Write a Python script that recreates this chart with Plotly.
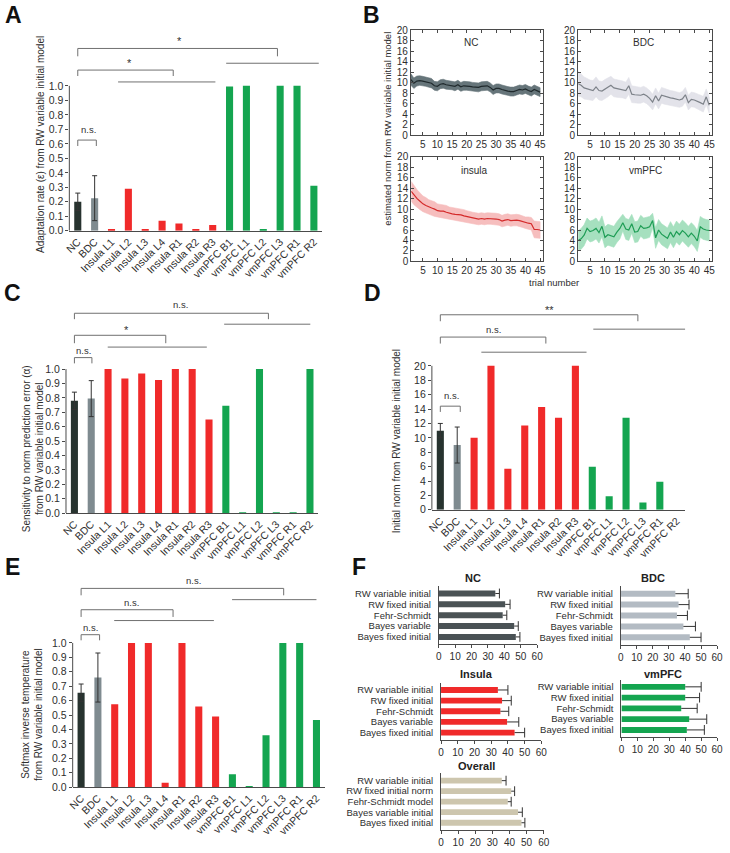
import plotly.graph_objects as go

W, H = 730, 853
FONT = "Arial, 'Liberation Sans', Helvetica, sans-serif"
TXT = "#2e2e2e"
AXC = "#4a4a4a"
BRC = "#707070"

# ---------------- data ----------------
categories = ["NC", "BDC", "Insula L1", "Insula L2", "Insula L3", "Insula L4",
              "Insula R1", "Insula R2", "Insula R3", "vmPFC B1", "vmPFC L1",
              "vmPFC L2", "vmPFC L3", "vmPFC R1", "vmPFC R2"]
groups = ["NC", "BDC", "Insula", "Insula", "Insula", "Insula", "Insula", "Insula",
          "Insula", "vmPFC", "vmPFC", "vmPFC", "vmPFC", "vmPFC", "vmPFC"]

# A: adaptation rate
adaptation_rate = [0.20, 0.225, 0.01, 0.29, 0.01, 0.07, 0.05, 0.01, 0.04,
                   0.995, 1.0, 0.01, 1.0, 1.0, 0.31]
adaptation_rate_sem = [0.06, 0.155]          # NC, BDC
# C: sensitivity to norm prediction error
sensitivity = [0.78, 0.795, 1.0, 0.935, 0.97, 0.925, 1.0, 1.0, 0.65,
               0.745, 0.005, 1.0, 0.005, 0.005, 1.0]
sensitivity_sem = [0.06, 0.125]
# D: initial norm
initial_norm = [11.0, 9.0, 10.0, 20.0, 5.7, 11.7, 14.3, 12.8, 20.0,
                6.0, 1.9, 12.8, 1.0, 3.9, 0.0]
initial_norm_sem = [1.0, 2.5]
# E: softmax inverse temperature
softmax_temp = [0.655, 0.76, 0.575, 1.0, 1.0, 0.03, 1.0, 0.56, 0.49,
                0.09, 0.008, 0.36, 1.0, 1.0, 0.465]
softmax_temp_sem = [0.06, 0.17]

unit_ticks = [0.0, 0.1, 0.2, 0.3, 0.4, 0.5, 0.6, 0.7, 0.8, 0.9, 1.0]
norm_ticks = [0, 2, 4, 6, 8, 10, 12, 14, 16, 18, 20]

# B: estimated norm per trial
trials = list(range(1, 46))
trial_ticks = [5, 10, 15, 20, 25, 30, 35, 40, 45]
nc_norm = [10.6, 9.9, 10.3, 10.4, 10.3, 10.2, 10.1, 9.9, 9.4, 9.3, 9.7, 9.8, 9.6, 9.5, 9.5,
           9.3, 9.6, 9.2, 9.4, 9.4, 9.3, 9.2, 9.2, 9.1, 9.3, 9.4, 9.4, 9.1, 8.6, 8.9,
           8.9, 8.7, 8.5, 8.4, 8.3, 8.3, 8.5, 8.7, 8.6, 8.8, 8.5, 8.3, 8.7, 8.4, 8.2]
nc_norm_sem = [1.1, 1.0, 0.95, 0.9, 0.9, 0.9, 0.9, 0.9, 0.85, 0.85, 0.85, 0.85, 0.85, 0.85, 0.85,
               0.85, 0.85, 0.85, 0.85, 0.85, 0.85, 0.85, 0.85, 0.85, 0.85, 0.85, 0.85, 0.85, 0.85, 0.85,
               0.85, 0.85, 0.85, 0.85, 0.85, 0.85, 0.85, 0.85, 0.85, 0.85, 0.85, 0.85, 0.85, 0.85, 0.85]
bdc_norm = [9.8, 9.5, 9.0, 8.8, 8.6, 8.5, 9.2, 8.5, 8.4, 8.8, 9.1, 9.5, 9.0, 8.9, 8.8,
            8.7, 8.5, 9.4, 7.8, 7.7, 7.6, 7.6, 7.8, 7.5, 7.0, 6.3, 7.5, 6.5, 7.6, 7.4,
            7.2, 7.1, 7.0, 6.8, 6.7, 6.9, 7.7, 6.2, 6.8, 6.7, 6.5, 6.2, 5.9, 7.3, 5.7]
bdc_norm_sem = [2.4, 2.2, 2.1, 2.0, 1.9, 1.9, 1.9, 1.8, 1.8, 1.8, 1.8, 1.7, 1.7, 1.7, 1.7,
                1.6, 1.6, 1.6, 1.6, 1.6, 1.5, 1.5, 1.5, 1.5, 1.5, 1.5, 1.5, 1.5, 1.5, 1.5,
                1.4, 1.4, 1.4, 1.4, 1.4, 1.4, 1.4, 1.4, 1.4, 1.4, 1.4, 1.5, 1.5, 1.5, 1.5]
insula_norm = [13.4, 12.6, 12.0, 11.5, 11.0, 10.7, 10.4, 10.2, 10.0, 9.7, 9.6, 9.6, 9.4, 9.2, 9.1,
               9.0, 9.0, 8.9, 8.7, 8.6, 8.4, 8.3, 8.2, 8.1, 8.2, 8.1, 8.2, 8.2, 8.2, 8.1,
               8.0, 7.7, 7.9, 8.0, 7.8, 7.9, 7.9, 7.8, 7.6, 7.4, 7.3, 7.2, 6.1, 6.1, 6.0]
insula_norm_sem = [1.9, 1.8, 1.7, 1.6, 1.5, 1.5, 1.4, 1.4, 1.4, 1.3, 1.3, 1.3, 1.3, 1.2, 1.2,
                   1.2, 1.2, 1.2, 1.2, 1.1, 1.1, 1.1, 1.1, 1.1, 1.1, 1.1, 1.1, 1.1, 1.1, 1.1,
                   1.1, 1.1, 1.1, 1.1, 1.1, 1.1, 1.1, 1.1, 1.1, 1.1, 1.2, 1.2, 1.6, 1.6, 1.6]
vmpfc_norm = [4.0, 4.3, 5.0, 6.3, 5.7, 5.9, 6.3, 5.5, 6.7, 4.6, 5.1, 4.9, 4.7, 5.6, 6.3,
              7.4, 6.2, 6.0, 7.2, 5.6, 5.7, 6.8, 6.3, 6.4, 6.6, 7.8, 4.5, 6.0, 5.2, 4.8,
              4.4, 5.6, 4.6, 5.7, 5.1, 5.9, 5.4, 4.7, 5.4, 4.8, 3.9, 6.6, 6.2, 6.0, 5.9]
vmpfc_norm_sem = [1.8, 2.0, 2.0, 2.0, 2.0, 2.0, 2.0, 2.0, 2.0, 2.0, 2.0, 2.0, 2.0, 2.0, 2.0,
                  1.6, 2.0, 2.0, 1.8, 2.0, 2.0, 2.0, 2.0, 2.0, 2.0, 1.4, 2.0, 2.0, 2.0, 2.0,
                  2.0, 2.0, 2.0, 2.0, 2.0, 2.0, 2.0, 2.0, 2.0, 2.0, 2.0, 2.0, 2.0, 2.0, 2.0]

# F: model fits
models = ["RW variable initial", "RW fixed initial", "Fehr-Schmidt", "Bayes variable",
          "Bayes fixed initial"]
overall_models = ["RW variable initial", "RW fixed initial norm", "Fehr-Schmidt model",
                  "Bayes variable initial", "Bayes fixed initial"]
fit_ticks = [0, 10, 20, 30, 40, 50, 60]
fit_nc = [34.5, 40.5, 39.0, 46.0, 47.0]
fit_nc_err = [2.5, 3.0, 2.5, 2.5, 2.5]
fit_bdc = [34.0, 36.0, 35.0, 39.0, 43.0]
fit_bdc_err = [8.0, 6.5, 6.5, 7.5, 7.0]
fit_insula = [34.0, 36.5, 35.5, 39.5, 44.0]
fit_insula_err = [6.0, 5.5, 5.0, 7.0, 6.0]
fit_vmpfc = [40.0, 40.0, 37.5, 42.5, 41.0]
fit_vmpfc_err = [10.0, 9.0, 10.0, 11.0, 11.0]
fit_overall = [35.5, 41.0, 39.0, 45.0, 47.0]
fit_overall_err = [2.5, 2.0, 2.0, 2.5, 2.0]

# ---------------- styling ----------------
group_colors = {"NC": "#27332f", "BDC": "#7f8b90", "Insula": "#f02a2a", "vmPFC": "#14a550"}
ERRC = "#333333"


def PX(p):
    return p / W


def PY(p):
    return 1 - p / H


fig = go.Figure()
layout = {}
shapes = []
annotations = []


def axnames(n):
    return ("x" if n == 1 else f"x{n}"), ("y" if n == 1 else f"y{n}")


def axkeys(n):
    return ("xaxis" if n == 1 else f"xaxis{n}"), ("yaxis" if n == 1 else f"yaxis{n}")


def bar_panel(n, vals, sem, left, right, zero, ppu, top, ticks, fmt, brackets, hlines):
    xa, ya = axnames(n)
    xk, yk = axkeys(n)
    for gi, g in enumerate(["NC", "BDC", "Insula", "vmPFC"]):
        idx = [i for i, gg in enumerate(groups) if gg == g]
        err = None
        if g in ("NC", "BDC"):
            err = dict(type="data", array=[sem[gi]], color=ERRC, thickness=1, width=2.5)
        fig.add_trace(go.Bar(x=[categories[i] for i in idx], y=[vals[i] for i in idx],
                             marker=dict(color=group_colors[g], line=dict(width=0)),
                             width=0.42, error_y=err, xaxis=xa, yaxis=ya,
                             showlegend=False, hoverinfo="x+y"))
    layout[xk] = dict(domain=[PX(left), PX(right)], anchor=ya, type="category",
                      categoryorder="array", categoryarray=categories,
                      range=[-0.5, 14.5], showline=True, linecolor=AXC, linewidth=1,
                      tickangle=-45, tickfont=dict(size=10.5, color=TXT), ticks="",
                      showgrid=False, zeroline=False)
    layout[yk] = dict(domain=[PY(zero), PY(zero - ppu * top)], anchor=xa,
                      range=[0, top], tickvals=ticks, tickformat=fmt, ticks="outside",
                      ticklen=3, tickcolor=AXC, showline=False, showgrid=False,
                      zeroline=False, tickfont=dict(size=10.5, color=TXT))
    shapes.append(dict(type="line", xref=f"{xa} domain", yref=ya, x0=0, x1=0,
                       y0=0, y1=ticks[-1], line=dict(color=AXC, width=1)))
    for (x0, x1, yt, ye, lab, lx, ly) in brackets:
        for (a, b, c, d) in [(x0, ye, x0, yt), (x0, yt, x1, yt), (x1, yt, x1, ye)]:
            shapes.append(dict(type="line", xref=xa, yref=ya, x0=a, y0=b, x1=c, y1=d,
                               line=dict(color=BRC, width=1)))
        annotations.append(dict(x=lx, y=ly, xref=xa, yref=ya, text=lab, showarrow=False,
                                font=dict(size=11 if "*" in lab else 9.5, color="#333333"),
                                xanchor="center", yanchor="middle"))
    for (x0, x1, y) in hlines:
        shapes.append(dict(type="line", xref=xa, yref=ya, x0=x0, y0=y, x1=x1, y1=y,
                           line=dict(color=BRC, width=1)))


# Panel A
bar_panel(1, adaptation_rate, adaptation_rate_sem, 64.4, 321.6, 228, 147, 1.40, unit_ticks, ".1f",
          [(0, 1.1, 0.626, 0.585, "n.s.", 0.62, 0.70),
           (0, 5.66, 1.109, 1.068, "*", 3.09, 1.16),
           (0, 11.84, 1.258, 1.204, "*", 6.06, 1.31)],
          [(2.39, 8.16, 1.027), (8.8, 14.29, 1.156)])
# Panel C
bar_panel(2, sensitivity, sensitivity_sem, 61, 317.6, 514.3, 146, 1.45, unit_ticks, ".1f",
          [(0, 1.04, 1.08, 1.04, "n.s.", 0.57, 1.13),
           (0, 5.43, 1.235, 1.18, "*", 3.09, 1.27),
           (0, 11.53, 1.388, 1.347, "n.s.", 6.33, 1.45)],
          [(1.98, 7.87, 1.153), (8.9, 14.02, 1.312)])
# Panel D
bar_panel(3, initial_norm, initial_norm_sem, 433, 690.5, 511, 7.3, 28.5, norm_ticks, "d",
          [(0, 1.18, 14.4, 13.6, "n.s.", 0.67, 15.9),
           (0, 6.25, 24.0, 23.1, "n.s.", 3.17, 25.0),
           (0, 11.7, 27.1, 26.2, "**", 6.45, 27.8)],
          [(2.43, 8.66, 21.9), (9.06, 14.52, 25.1)])
# Panel E
bar_panel(4, softmax_temp, softmax_temp_sem, 67.8, 324.2, 792.3, 146.3, 1.45, unit_ticks, ".1f",
          [(0, 1.1, 1.057, 1.018, "n.s.", 0.55, 1.11),
           (0, 5.47, 1.23, 1.18, "n.s.", 3.0, 1.28),
           (0, 12.05, 1.378, 1.33, "n.s.", 6.7, 1.43)],
          [(1.97, 7.9, 1.155), (8.98, 14.0, 1.30)])


# Panel B
def line_panel(n, mean, sem, lc, fc, left, right, top_px, bot_px, title, tx, ty):
    xa, ya = axnames(n)
    xk, yk = axkeys(n)
    upper = [m + s for m, s in zip(mean, sem)]
    lower = [m - s for m, s in zip(mean, sem)]
    fig.add_trace(go.Scatter(x=trials + trials[::-1], y=upper + lower[::-1], fill="toself",
                             fillcolor=fc, line=dict(width=0.6, color=fc), mode="lines",
                             xaxis=xa, yaxis=ya, showlegend=False, hoverinfo="skip"))
    fig.add_trace(go.Scatter(x=trials, y=mean, mode="lines", line=dict(color=lc, width=1.2),
                             xaxis=xa, yaxis=ya, showlegend=False))
    common = dict(showline=True, linecolor=AXC, linewidth=1, mirror="ticks", ticks="inside",
                  ticklen=3, tickcolor=AXC, showgrid=False, zeroline=False,
                  tickfont=dict(size=10, color=TXT))
    layout[xk] = dict(domain=[PX(left), PX(right)], anchor=ya, range=[1, 46],
                      tickvals=trial_ticks, **common)
    layout[yk] = dict(domain=[PY(bot_px), PY(top_px)], anchor=xa, range=[0, 20],
                      tickvals=norm_ticks, **common)
    annotations.append(dict(x=tx, y=ty, xref=xa, yref=ya, text=title, showarrow=False,
                            xanchor="center", yanchor="middle",
                            font=dict(size=10, color=TXT)))


line_panel(5, nc_norm, nc_norm_sem, "#1f292c", "#66757a", 411.7, 546, 24.5, 131, "NC", 21.5, 17.7)
line_panel(6, bdc_norm, bdc_norm_sem, "#7d8289", "#e3e3ea", 581.7, 718, 24.5, 131, "BDC", 23, 17.7)
line_panel(7, insula_norm, insula_norm_sem, "#d42a2a", "#f6bebe", 412, 546, 153, 259, "insula", 22.7, 17.3)
line_panel(8, vmpfc_norm, vmpfc_norm_sem, "#1e9d55", "#a6e0bf", 581.7, 718, 153, 259, "vmPFC", 23.6, 17.3)


# Panel F
def fit_panel(n, labels, vals, errs, color, left, right, top_px, bot_px, title, tx, ty):
    xa, ya = axnames(n)
    xk, yk = axkeys(n)
    fig.add_trace(go.Bar(y=labels, x=vals, orientation="h", width=0.55,
                         marker=dict(color=color, line=dict(width=0)),
                         error_x=dict(type="data", symmetric=False, array=errs,
                                      arrayminus=[0, 0, 0, 0, 0], color=ERRC,
                                      thickness=1, width=0),
                         xaxis=xa, yaxis=ya, showlegend=False))
    fig.add_trace(go.Scatter(y=labels, x=[v + e for v, e in zip(vals, errs)], mode="markers",
                             marker=dict(symbol="line-ns-open", size=7, color=ERRC,
                                         line=dict(color=ERRC, width=1)),
                             xaxis=xa, yaxis=ya, showlegend=False, hoverinfo="skip"))
    layout[xk] = dict(domain=[PX(left), PX(right)], anchor=ya, range=[0, 60],
                      tickvals=fit_ticks, showline=True, linecolor=AXC, linewidth=1,
                      ticks="outside", ticklen=3, tickcolor=AXC, showgrid=False,
                      zeroline=False, tickfont=dict(size=10, color=TXT))
    layout[yk] = dict(domain=[PY(bot_px), PY(top_px)], anchor=xa, type="category",
                      categoryorder="array", categoryarray=labels,
                      tickmode="array", tickvals=labels, ticktext=labels,
                      autorange="reversed", showline=True, linecolor=AXC, linewidth=1,
                      ticks="", ticklabelstandoff=5, showgrid=False, zeroline=False,
                      tickfont=dict(size=9.5, color=TXT))
    annotations.append(dict(x=PX(tx), y=PY(ty), xref="paper", yref="paper",
                            text=f"<b>{title}</b>", showarrow=False,
                            xanchor="center", yanchor="middle",
                            font=dict(size=11, color="#222222")))


fit_panel(9, models, fit_nc, fit_nc_err, "#4a5255", 440, 540, 588.5, 647.3, "NC", 475, 580)
fit_panel(10, models, fit_bdc, fit_bdc_err, "#b3bbc3", 625, 723, 588.7, 647.7, "BDC", 658, 580)
fit_panel(11, models, fit_insula, fit_insula_err, "#f02a2a", 442.3, 544.3, 686.4, 744.3, "Insula", 478, 678)
fit_panel(12, models, fit_vmpfc, fit_vmpfc_err, "#14a550", 625.7, 723, 683.2, 741.6, "vmPFC", 668, 678)
fit_panel(13, overall_models, fit_overall, fit_overall_err, "#cdc6ae", 442.3, 546.7, 778.4, 835.7, "Overall", 478, 771)


# axis titles
def vtext(x, y, text, size=10):
    annotations.append(dict(x=PX(x), y=PY(y), xref="paper", yref="paper", text=text,
                            textangle=-90, showarrow=False, xanchor="center", yanchor="middle",
                            font=dict(size=size, color=TXT)))


vtext(35, 140.5, "Adaptation rate (ε) from RW variable initial model")
vtext(27, 449, "Sensitivity to norm prediction error (α)<br>from RW variable initial model")
vtext(397, 441, "Initial norm from RW variable initial model")
vtext(26.5, 719, "Softmax inverse temperature<br>from RW variable initial model")
vtext(388, 125, "estimated norm from RW variable initial model", 9.5)
annotations.append(dict(x=PX(557), y=PY(280), xref="paper", yref="paper", text="trial number",
                        showarrow=False, xanchor="center", yanchor="middle",
                        font=dict(size=9.5, color=TXT)))

# panel letters
for lab, x, y in [("A", 8, 9), ("B", 372, 9), ("C", 7, 291), ("D", 373, 291),
                  ("E", 7, 569), ("F", 359, 569)]:
    annotations.append(dict(x=PX(x), y=PY(y), xref="paper", yref="paper", text=f"<b>{lab}</b>",
                            showarrow=False, xanchor="center", yanchor="middle",
                            font=dict(size=23, color="#111111")))

fig.update_layout(width=W, height=H, margin=dict(l=0, r=0, t=0, b=0),
                  paper_bgcolor="white", plot_bgcolor="white", barmode="overlay",
                  font=dict(family=FONT, color=TXT), showlegend=False,
                  shapes=shapes, annotations=annotations, **layout)

fig.write_html("out.html", config={"displayModeBar": False},
               post_script="document.body.style.margin='0px';")
